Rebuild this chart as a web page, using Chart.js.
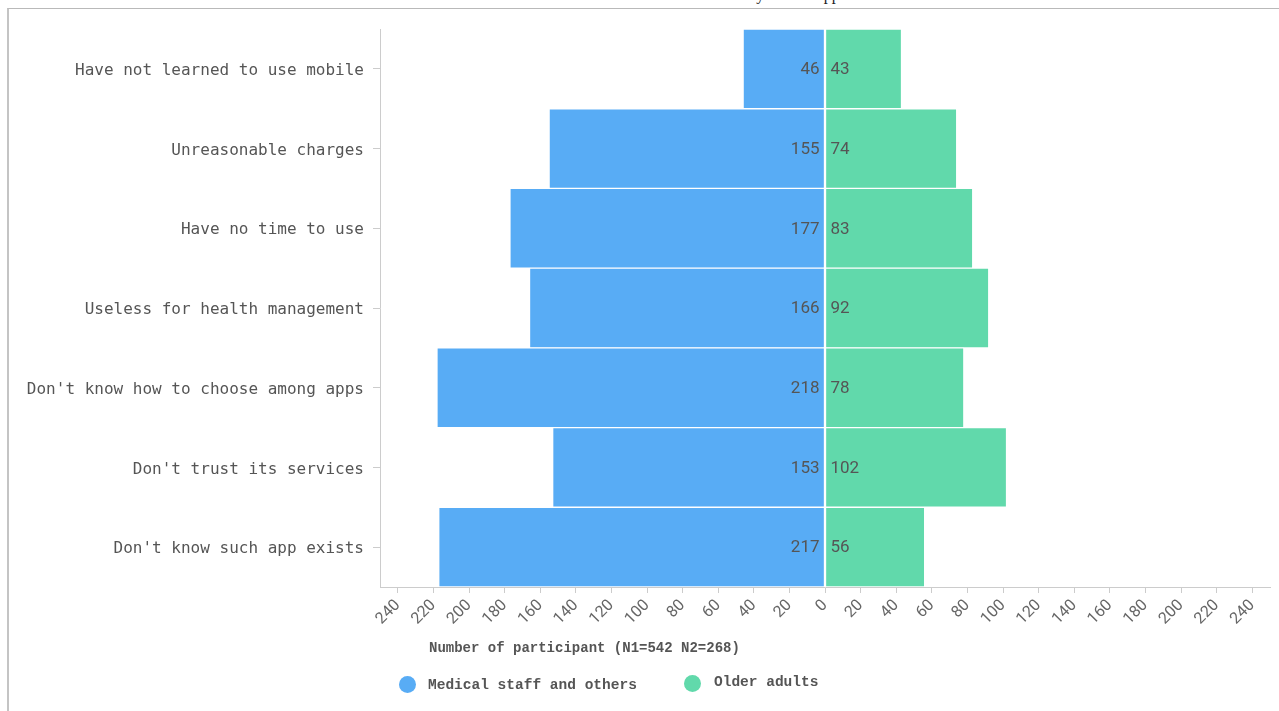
<!DOCTYPE html>
<html>
<head>
<meta charset="utf-8">
<script src="https://cdn.jsdelivr.net/npm/chart.js@4"></script>
<style>
  html, body { margin: 0; padding: 0; background: #fff; overflow: hidden; }
  body { width: 1279px; height: 711px; position: relative; }
  #frame { position: absolute; left: 7px; top: 8px; width: 1290px; height: 720px;
           border-top: 1px solid #b9b9b9; border-left: 2px solid #c4c4c4; }
  #title { position: absolute; right: 433px; top: -13px; font: 16px "Liberation Serif", serif;
           color: #222; white-space: nowrap; line-height: 16px; }
  #chart { position: absolute; left: 0; top: 0; }
  .txt { position: absolute; white-space: nowrap; color: #555; font-family: "Liberation Mono", monospace; font-weight: bold; }
  .dot { position: absolute; width: 17px; height: 17px; border-radius: 50%; }
</style>
</head>
<body>
<div id="frame"></div>
<div id="title">Reasons for the lack of health service use by mobile apps</div>
<canvas id="chart" width="1279" height="711"></canvas>
<div class="txt" id="xtitle" style="left:429px; top:640px; font-size:14px;"></div>
<div class="dot" style="left:399px; top:676px; background:#58acf5;"></div>
<div class="txt" id="leg1" style="left:428px; top:677px; font-size:14.5px;"></div>
<div class="dot" style="left:684px; top:675px; background:#61d9ab;"></div>
<div class="txt" id="leg2" style="left:714px; top:674px; font-size:14.5px;"></div>
<script>
const categories = [
  "Have not learned to use mobile",
  "Unreasonable charges",
  "Have no time to use",
  "Useless for health management",
  "Don't know how to choose among apps",
  "Don't trust its services",
  "Don't know such app exists"
];
const medicalStaff = [46, 155, 177, 166, 218, 153, 217];
const olderAdults = [43, 74, 83, 92, 78, 102, 56];
const seriesNames = ["Medical staff and others", "Older adults"];
const tickValues = [-240, -220, -200, -180, -160, -140, -120, -100, -80, -60, -40, -20,
  0, 20, 40, 60, 80, 100, 120, 140, 160, 180, 200, 220, 240];
const axisTitle = "Number of participant (N1=542 N2=268)";

document.getElementById("xtitle").textContent = axisTitle;
document.getElementById("leg1").textContent = seriesNames[0];
document.getElementById("leg2").textContent = seriesNames[1];

// numbers next to the zero line
const valueLabels = {
  id: "valueLabels",
  afterDatasetsDraw(chart) {
    const ctx = chart.ctx;
    ctx.save();
    ctx.font = "17px Roboto, sans-serif";
    ctx.fillStyle = "#555";
    ctx.textBaseline = "middle";
    chart.data.datasets.forEach((ds, i) => {
      const meta = chart.getDatasetMeta(i);
      const raw = i === 0 ? medicalStaff : olderAdults;
      meta.data.forEach((bar, j) => {
        if (i === 0) {
          ctx.textAlign = "right";
          ctx.fillText(raw[j], bar.base - 5, bar.y + 1);
        } else {
          ctx.textAlign = "left";
          ctx.fillText(raw[j], bar.base + 5, bar.y + 1);
        }
      });
    });
    ctx.restore();
  }
};

new Chart(document.getElementById("chart"), {
  type: "bar",
  data: {
    labels: categories,
    datasets: [
      {
        label: seriesNames[0],
        data: medicalStaff.map(v => -v),
        backgroundColor: "#58acf5",
        borderColor: "#ffffff",
        borderWidth: 1,
        borderSkipped: false
      },
      {
        label: seriesNames[1],
        data: olderAdults,
        backgroundColor: "#61d9ab",
        borderColor: "#ffffff",
        borderWidth: 1,
        borderSkipped: false
      }
    ]
  },
  options: {
    indexAxis: "y",
    responsive: false,
    animation: false,
    devicePixelRatio: 1,
    barPercentage: 1,
    categoryPercentage: 1,
    layout: { padding: { top: 29, right: 9, left: 0, bottom: 0 } },
    plugins: {
      legend: { display: false },
      tooltip: { enabled: false }
    },
    scales: {
      x: {
        stacked: true,
        min: -250,
        max: 250,
        afterBuildTicks: scale => {
          scale.ticks = tickValues.map(v => ({ value: v }));
        },
        afterFit: scale => { scale.height = 124; },
        grid: { drawOnChartArea: false, drawTicks: true, tickLength: 6, color: "#ccc" },
        border: { color: "#ccc" },
        ticks: {
          autoSkip: false,
          minRotation: 45,
          maxRotation: 45,
          padding: 3,
          color: "#666",
          font: { family: "Roboto, sans-serif", size: 16 },
          callback: v => Math.abs(v)
        }
      },
      y: {
        stacked: true,
        afterFit: scale => { scale.width = 380; },
        grid: { offset: false, drawOnChartArea: false, drawTicks: true, tickLength: 7, color: "#ccc" },
        border: { color: "#ccc" },
        ticks: {
          padding: 9,
          labelOffset: 2,
          color: "#555",
          font: { family: "DejaVu Sans Mono, monospace", size: 16 }
        }
      }
    }
  },
  plugins: [valueLabels]
});
</script>
</body>
</html>
